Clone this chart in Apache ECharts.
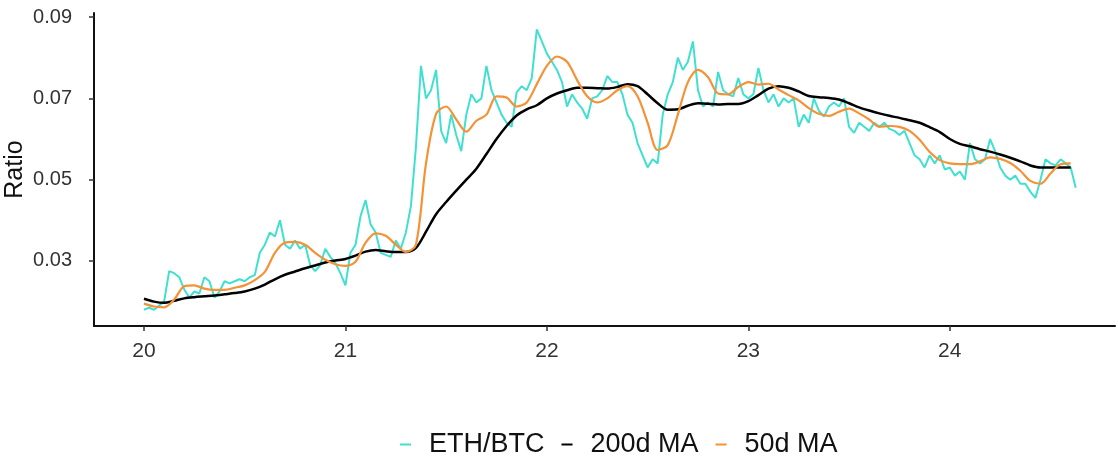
<!DOCTYPE html>
<html>
<head>
<meta charset="utf-8">
<title>ETH/BTC</title>
<script src="https://cdn.jsdelivr.net/npm/echarts@6/dist/echarts.min.js"></script>
<style>
  html, body { margin: 0; padding: 0; background: #fff; }
  #chart { width: 1118px; height: 463px; }
</style>
</head>
<body>
<div id="chart"></div>
<script>
// sampling of the series (in years, '20' = 2020)
const ethStart = 20
const ethStep = 0.025
const maStart = 20
const maStep = 0.05

const xTicks = [20, 21, 22, 23, 24]
const yTicks = [0.03, 0.05, 0.07, 0.09]

const ethBtc = [
  0.018, 0.0185, 0.018, 0.019, 0.020, 0.0275, 0.027, 0.026, 0.023, 0.021,
  0.0225, 0.022, 0.026, 0.025, 0.021, 0.0225, 0.025, 0.0245, 0.025, 0.0255,
  0.025, 0.026, 0.0265, 0.032, 0.034, 0.037, 0.036, 0.040, 0.034, 0.033,
  0.035, 0.033, 0.034, 0.029, 0.0275, 0.029, 0.033, 0.031, 0.0295, 0.027,
  0.024, 0.032, 0.034, 0.041, 0.045, 0.039, 0.037, 0.032, 0.0315, 0.031,
  0.035, 0.033, 0.037, 0.0435, 0.058, 0.078, 0.070, 0.072, 0.077, 0.062,
  0.059, 0.066, 0.061, 0.057, 0.066, 0.071, 0.069, 0.070, 0.078, 0.072,
  0.069, 0.066, 0.064, 0.063, 0.0715, 0.073, 0.072, 0.075, 0.087, 0.084,
  0.081, 0.079, 0.077, 0.074, 0.068, 0.071, 0.069, 0.0675, 0.065, 0.070,
  0.0705, 0.072, 0.0755, 0.074, 0.074, 0.071, 0.066, 0.064, 0.059, 0.056,
  0.053, 0.055, 0.054, 0.066, 0.071, 0.074, 0.080, 0.077, 0.079, 0.084,
  0.072, 0.068, 0.069, 0.068, 0.0765, 0.072, 0.071, 0.0705, 0.075, 0.071,
  0.070, 0.071, 0.0775, 0.072, 0.069, 0.071, 0.068, 0.070, 0.069, 0.070,
  0.063, 0.066, 0.064, 0.070, 0.067, 0.0655, 0.068, 0.069, 0.068, 0.070,
  0.063, 0.0615, 0.064, 0.063, 0.062, 0.064, 0.063, 0.064, 0.0625, 0.062,
  0.061, 0.062, 0.059, 0.056, 0.055, 0.053, 0.056, 0.054, 0.056, 0.0525,
  0.053, 0.051, 0.052, 0.050, 0.059, 0.055, 0.054, 0.055, 0.060, 0.057,
  0.053, 0.051, 0.050, 0.051, 0.049, 0.049, 0.047, 0.0455, 0.050, 0.055,
  0.054, 0.0535, 0.055, 0.054, 0.053, 0.048
]

const ma200 = [
  0.0207, 0.0200, 0.0197, 0.0202, 0.0208, 0.0211, 0.0213, 0.0215, 0.0218, 0.0221,
  0.0225, 0.0232, 0.0242, 0.0255, 0.0266, 0.0274, 0.0282, 0.0289, 0.0296, 0.0301,
  0.0305, 0.0313, 0.0323, 0.0327, 0.0324, 0.0322, 0.0322, 0.0332, 0.0372, 0.0415,
  0.0445, 0.0473, 0.0500, 0.0527, 0.0563, 0.0600, 0.0632, 0.0658, 0.0673, 0.0683,
  0.0700, 0.0712, 0.0720, 0.0726, 0.0726, 0.0725, 0.0724, 0.0728, 0.0735, 0.0730,
  0.0710, 0.0688, 0.0672, 0.0673, 0.0682, 0.0688, 0.0687, 0.0685, 0.0686, 0.0686,
  0.0693, 0.0708, 0.0724, 0.0730, 0.0726, 0.0717, 0.0706, 0.0703, 0.0701, 0.0697,
  0.0688, 0.0678, 0.0670, 0.0663, 0.0657, 0.0652, 0.0646, 0.0640, 0.0629, 0.0617,
  0.0600, 0.0588, 0.0582, 0.0575, 0.0569, 0.0562, 0.0554, 0.0545, 0.0535, 0.0530,
  0.0530, 0.0530, 0.0530
]

const ma50 = [
  0.0195, 0.0188, 0.0186, 0.0205, 0.0238, 0.0240, 0.0232, 0.0229, 0.0229, 0.0234,
  0.0240, 0.0253, 0.0273, 0.0320, 0.0345, 0.0347, 0.0340, 0.0320, 0.0303, 0.0292,
  0.0288, 0.0298, 0.0345, 0.0368, 0.0362, 0.0340, 0.0322, 0.0340, 0.0540, 0.0662,
  0.0680, 0.0648, 0.0618, 0.0645, 0.0660, 0.0705, 0.0702, 0.0680, 0.0690, 0.0735,
  0.0780, 0.0803, 0.0790, 0.0745, 0.0705, 0.0690, 0.0700, 0.0720, 0.0730, 0.0705,
  0.0640, 0.0573, 0.0585, 0.0660, 0.0740, 0.0770, 0.0752, 0.0712, 0.0710, 0.0728,
  0.0740, 0.0734, 0.0736, 0.0722, 0.0708, 0.0695, 0.0676, 0.0662, 0.0657, 0.0667,
  0.0675, 0.0663, 0.0648, 0.0630, 0.0632, 0.0630, 0.0620, 0.0598, 0.0568, 0.0548,
  0.0540, 0.0538, 0.0538, 0.0545, 0.0555, 0.0551, 0.0541, 0.0522, 0.0497, 0.0490,
  0.0515, 0.0538, 0.0540
]

const toPairs = (vals, start, step) => vals.map((v, i) => [start + i * step, v])

const font = 'Liberation Sans, Arial, sans-serif'
const chart = echarts.init(document.getElementById('chart'))

chart.setOption({
  animation: false,
  grid: {
    left: 94,
    right: 3,
    top: 13,
    bottom: 137,
    outerBoundsMode: 'none'
  },
  legend: {
    top: 426,
    left: 395,
    icon: 'rect',
    itemWidth: 11,
    itemHeight: 2,
    itemGap: 17,
    textStyle: {
      color: '#111',
      fontSize: 27,
      fontFamily: font,
      padding: [0, 0, 0, 13]
    },
    data: ['ETH/BTC', '200d MA', '50d MA']
  },
  xAxis: {
    type: 'value',
    min: 19.752,
    max: 24.82,
    splitLine: { show: false },
    axisLine: { lineStyle: { color: '#111', width: 2 } },
    axisTick: {
      length: 5,
      customValues: xTicks,
      lineStyle: { color: '#333', width: 1.5 }
    },
    axisLabel: {
      customValues: xTicks,
      margin: 15,
      color: '#333',
      fontSize: 21,
      fontFamily: font
    }
  },
  yAxis: {
    type: 'value',
    min: 0.014,
    max: 0.091,
    name: 'Ratio',
    nameLocation: 'middle',
    nameGap: 66,
    nameMoveOverlap: false,
    nameTextStyle: {
      color: '#111',
      fontSize: 25,
      fontFamily: font
    },
    splitLine: { show: false },
    axisLine: { show: true, lineStyle: { color: '#111', width: 2 } },
    axisTick: {
      show: true,
      length: 5,
      customValues: yTicks,
      lineStyle: { color: '#333', width: 1.5 }
    },
    axisLabel: {
      customValues: yTicks,
      margin: 22,
      color: '#333',
      fontSize: 20,
      fontFamily: font,
      formatter: v => v.toFixed(2)
    }
  },
  series: [
    {
      name: 'ETH/BTC',
      type: 'line',
      showSymbol: false,
      data: toPairs(ethBtc, ethStart, ethStep),
      itemStyle: { color: '#40E0D0' },
      lineStyle: { color: '#40E0D0', width: 2 }
    },
    {
      name: '200d MA',
      type: 'line',
      showSymbol: false,
      smooth: 0.3,
      data: toPairs(ma200, maStart, maStep),
      itemStyle: { color: '#000' },
      lineStyle: { color: '#000', width: 2.5 }
    },
    {
      name: '50d MA',
      type: 'line',
      showSymbol: false,
      smooth: 0.3,
      data: toPairs(ma50, maStart, maStep),
      itemStyle: { color: '#F39237' },
      lineStyle: { color: '#F39237', width: 2.2 }
    }
  ]
})
</script>
</body>
</html>
